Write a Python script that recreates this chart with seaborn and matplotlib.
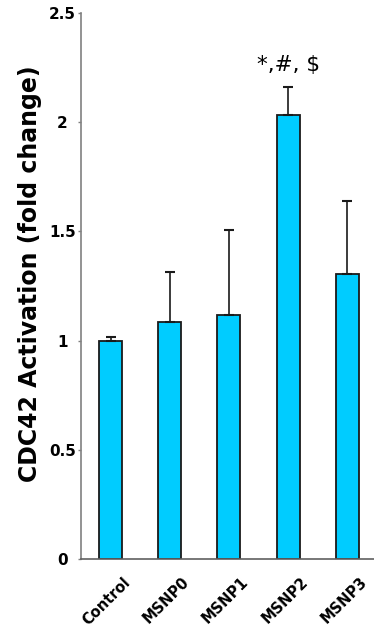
import numpy as np
import pandas as pd
import seaborn as sns
import matplotlib
matplotlib.use('Agg')
import matplotlib.pyplot as plt
import matplotlib.transforms as mtransforms

# dados
grupos = ['Control', 'MSNP0', 'MSNP1', 'MSNP2', 'MSNP3']
ativacao = [1.00, 1.085, 1.115, 2.035, 1.305]
erro = [0.015, 0.228, 0.392, 0.125, 0.334]
anotacao = '*,#, $'

df = pd.DataFrame({'Grupo': grupos, 'Ativacao': ativacao})

sns.set_style('white')
plt.rcParams['font.family'] = ['DejaVu Sans']
plt.rcParams['text.color'] = 'black'
plt.rcParams['axes.labelcolor'] = 'black'

fig = plt.figure(figsize=(3.74, 6.3), dpi=100)
ax = fig.add_axes([0.2166, 0.1127, 0.783, 0.8667])

sns.barplot(data=df, x='Grupo', y='Ativacao', color='#00CCFF', width=0.39,
            edgecolor='#1a1a1a', linewidth=1.3, saturation=1, errorbar=None, ax=ax)

# barras de erro (só para cima)
ax.errorbar(np.arange(len(grupos)), ativacao, yerr=[np.zeros(len(erro)), erro],
            fmt='none', ecolor='#1a1a1a', elinewidth=1.2, capsize=3.5, capthick=1.5)

ax.text(3, 2.235, anotacao, ha='center', va='baseline', fontsize=15.5, color='black')

ax.set_xlim(-0.5, 4.45)
ax.set_ylim(0, 2.5)
ax.tick_params(axis='y', left=True, length=2.5, width=1, color='#808080',
               labelcolor='black', pad=11)
ax.tick_params(axis='x', bottom=False, labelcolor='black', pad=4)
ax.set_yticks([0, 0.5, 1, 1.5, 2, 2.5])
ax.set_yticklabels(['0', '0.5', '1', '1.5', '2', '2.5'], fontweight='bold', fontsize=11)
for lbl in ax.get_yticklabels():
    lbl.set_ha('center')
ax.set_xticks(range(len(grupos)))
ax.set_xticklabels(grupos, rotation=45, ha='right', va='top', rotation_mode='anchor',
                   fontweight='bold', fontsize=10.5)
# desloca os rótulos do eixo x para a direita/baixo
desloc = mtransforms.ScaledTranslation(0.12, -0.05, fig.dpi_scale_trans)
for lbl in ax.get_xticklabels():
    lbl.set_transform(lbl.get_transform() + desloc)
ax.set_xlabel('')
ax.set_ylabel('CDC42 Activation (fold change)', fontweight='bold', fontsize=17, color='black')
ax.yaxis.set_label_coords(-0.133, 0.523)

for s in ['top', 'right']:
    ax.spines[s].set_visible(False)
ax.spines['left'].set_color('#808080')
ax.spines['left'].set_linewidth(1.2)
ax.spines['bottom'].set_color('#606060')
ax.spines['bottom'].set_linewidth(1.2)

fig.savefig('out.png', dpi=100)
